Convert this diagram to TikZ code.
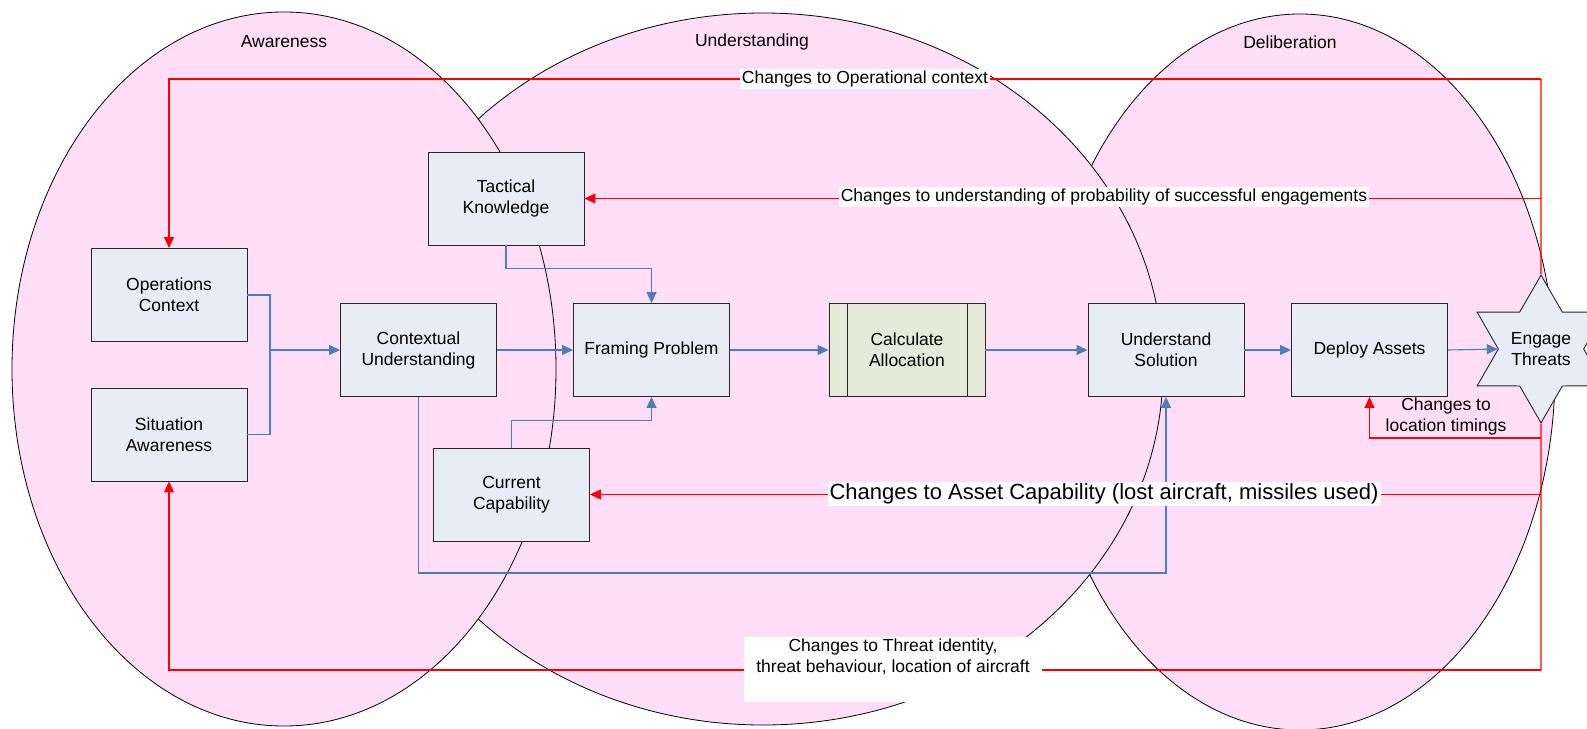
\documentclass[tikz,border=0pt]{standalone}
\usepackage{fontspec}
\setmainfont{Liberation Sans}
\usetikzlibrary{arrows.meta,shapes.geometric}

\definecolor{zonepink}{RGB}{253,222,246}
\definecolor{boxblue}{RGB}{232,236,247}
\definecolor{calcgreen}{RGB}{230,234,217}
\definecolor{flowblue}{RGB}{74,126,187}

\begin{document}
\begin{tikzpicture}[x=1pt, y=-1pt,
    zone/.style={draw=black, fill=zonepink, line width=0.8pt},
    zonetitle/.style={font=\fontsize{17.5}{21}\selectfont},
    stepbox/.style={draw=black!85, fill=boxblue, line width=0.9pt, minimum width=156pt,
        minimum height=93pt, inner sep=0pt, align=center, font=\fontsize{17.5}{21}\selectfont},
    flow/.style={draw=flowblue, line width=1.1pt, -{Triangle[length=11pt,width=10pt]}},
    flowline/.style={draw=flowblue, line width=1.1pt},
    back/.style={draw=red, line width=1.2pt, -{Triangle[length=11pt,width=10pt]}},
    backline/.style={draw=red, line width=1.2pt},
    backlabel/.style={fill=white, inner sep=2pt, font=\fontsize{17.5}{21}\selectfont, align=center}]
    \useasboundingbox (0,0) rectangle (1587,728);

    % 三個區域
    \draw[zone] (1300,372) ellipse [x radius=255pt, y radius=358pt];
    \draw[zone] (763,369) ellipse [x radius=400pt, y radius=356pt];
    \draw[zone] (284,369) ellipse [x radius=272pt, y radius=357pt];
    \node[zonetitle] (tAware) at (284,42) {Awareness};
    \node[zonetitle] (tUnder) at (752,42) {Understanding};
    \node[zonetitle] (tDelib) at (1290,42) {Deliberation};

    % 定義方塊的位置
    \node[stepbox] (TK) at (506,198.5) {Tactical\\Knowledge};
    \node[stepbox] (OC) at (169,295) {Operations\\Context};
    \node[stepbox] (SA) at (169,434.5) {Situation\\Awareness};
    \node[stepbox] (CU) at (418.5,350) {Contextual\\Understanding};
    \node[stepbox] (FP) at (651.5,350) {Framing Problem};
    \node[stepbox, fill=calcgreen] (CA) at (907,350) {Calculate\\Allocation};
    \node[stepbox] (US) at (1166,350) {Understand\\Solution};
    \node[stepbox] (DA) at (1369.5,350) {Deploy Assets};
    \node[stepbox] (CC) at (511.5,494.5) {Current\\Capability};
    \node[draw=black!85, fill=boxblue, line width=0.9pt, star, star points=6,
        star point ratio=1.73, minimum size=136pt, inner sep=0pt, align=center,
        font=\fontsize{17.5}{21}\selectfont] (ET) at (1541,349) {Engage\\Threats};
    \draw[black!85, line width=0.9pt] ([xshift=19pt]CA.north west) -- ([xshift=19pt]CA.south west);
    \draw[black!85, line width=0.9pt] ([xshift=-18pt]CA.north east) -- ([xshift=-18pt]CA.south east);

    % 藍色的流程
    \coordinate (join) at (270,350);
    \draw[flowline] (OC.east) -| (join);
    \draw[flowline] (SA.east) -| (join);
    \draw[flow] (join) -- (CU.west);
    \draw[flow] (CU.east) -- (FP.west);
    \draw[flow] (TK.south) -- ++(0,23) -| (FP.north);
    \draw[flow] (CC.north) -- ++(0,-27) -| (FP.south);
    \draw[flow] (FP.east) -- (CA.west);
    \draw[flow] (CA.east) -- (US.west);
    \draw[flow] (CU.south) -- ++(0,176) -| (US.south);
    \draw[flow] (US.east) -- (DA.west);
    \draw[flow] (DA.east) -- (ET.west);

    % 紅色的回饋
    \coordinate (rtop) at (1541,79);
    \coordinate (rloc) at (1541,438);
    \coordinate (rbot) at (1541,670);
    \draw[backline] (rtop) -- (ET.north);
    \draw[backline] (ET.south) -- (rbot);
    \draw[back] (rtop) -| (OC.north);
    \draw[back] (rtop |- TK.east) -- (TK.east);
    \draw[back] (rtop |- CC.east) -- (CC.east);
    \draw[back] (rloc) -| (DA.south);
    \draw[back] (rbot) -| (SA.south);

    % 標籤
    \node[backlabel] (lOp) at (865,79) {Changes to Operational context};
    \node[backlabel] (lTac) at (1104,197) {Changes to understanding of probability of successful engagements};
    \node[backlabel, font=\fontsize{22}{26}\selectfont] (lCap) at (1104,494) {Changes to Asset Capability (lost aircraft, missiles used)};
    \node[font=\fontsize{17.5}{21}\selectfont, align=center, inner sep=0pt] (lLoc) at (1446,416) {Changes to\\location timings};
    \node[backlabel, minimum width=298pt, minimum height=63pt] (lThr) at (893,669.5) {Changes to Threat identity,\\threat behaviour, location of aircraft\\\strut};
\end{tikzpicture}
\end{document}
